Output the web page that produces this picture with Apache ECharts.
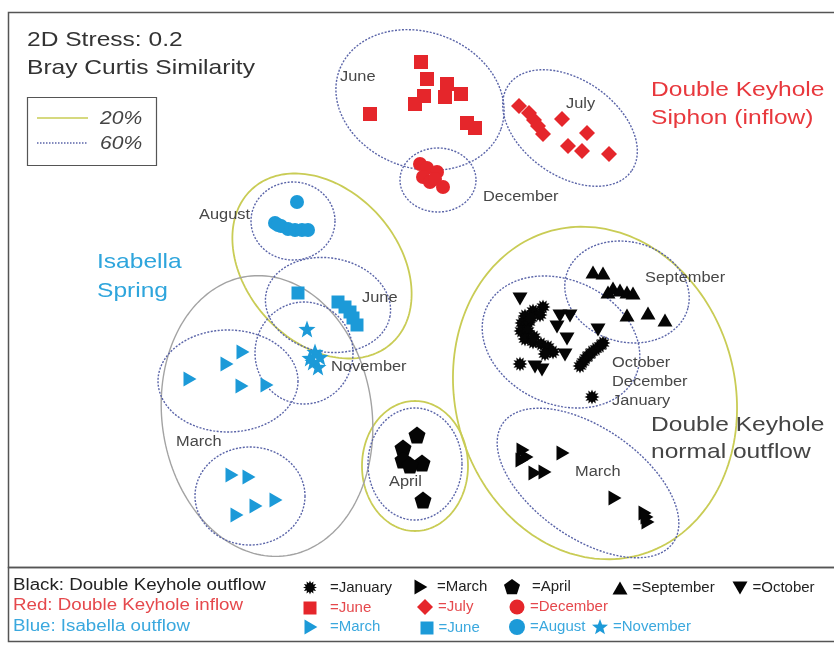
<!DOCTYPE html>
<html>
<head>
<meta charset="utf-8">
<script src="https://cdn.jsdelivr.net/npm/echarts/dist/echarts.min.js"></script>
<style>
html,body{margin:0;padding:0;background:#fff;}
#chart{width:834px;height:645px;}
</style>
</head>
<body>
<div id="chart"></div>
<script>
// ---------------- DATA (NMDS ordination positions) ----------------
const redJune = [[421,62],[427,79],[424,96],[415,104],[447,84],[445,97],[461,94],[370,114],[467,123],[475,128]];
const redJuly = [[519,106],[529,113],[534,120],[538,126],[543,134],[562,119],[587,133],[568,146],[582,151],[609,154]];
const redDecember = [[420,164],[427,168],[437,172],[423,177],[430,182],[443,187],[435,179]];
const blueAugust = [[297,202],[275,223],[281,226],[288,229],[295,230],[302,230],[308,230],[278,225]];
const blueJune = [[298,293],[338,302],[345,307],[350,312],[353,318],[357,325]];
const blueNovember = [[307,329],[315,352],[313,362],[318,367],[310,358],[320,357]];
const blueMarch = [[190,379],[227,364],[243,352],[242,386],[267,385],[232,475],[249,477],[237,515],[256,506],[276,500]];
const blackJanuary = [[543,307],[533,311],[525,316],[540,315],[522,323],[529,322],[521,331],[528,331],[525,339],[533,342],[541,344],[548,347],[553,352],[545,354],[534,337],[531,318],
  [580,366],[583,362],[586,358],[589,355],[592,352],[596,349],[600,346],[603,343],[520,364],[592,397]];
const blackMarch = [[523,450],[522,460],[527,457],[563,453],[535,473],[545,472],[615,498],[645,513],[648,522],[647,517]];
const blackApril = [[417,435],[403,448],[403,460],[422,463],[410,465],[423,500]];
const blackSeptember = [[593,272],[603,273],[613,288],[620,290],[627,292],[633,293],[608,292],[627,315],[648,313],[665,320]];
const blackOctober = [[520,299],[560,316],[570,316],[557,327],[567,339],[565,355],[598,330],[535,367],[542,370]];

// similarity contours: [centerX, centerY, radiusX, radiusY, rotationDeg]
const contours60 = [[420,100,86,68,20],[570,128,75,48,35],[438,180,38,32,0],[293,221,42,39,0],[328,305,63,47,10],
  [304,353,49,51,0],[228,381,70,51,0],[250,496,55,49,0],[415,464,47,56,0],[627,292,63,50,15],[561,342,82,62,25],[588,483,104,55,35]];
const contours20 = [[322,266,104,76,48],[415,466,53,65,0],[595,393,140,168,-15]];
const contoursGroup = [[267,416,105,141,-8]];

// cluster labels: [text, x, y]
const clusterLabels = [['June',340,77],['July',566,104],['December',483,197],['August',199,215],['June',362,298],
  ['November',331,367],['March',176,442],['April',389,482],['September',645,278],['October',612,363],
  ['December',612,382],['January',612,401],['March',575,472]];

// ---------------- SYMBOLS ----------------
function poly(n, rOut, rIn, start){
  let p = 'path://';
  const m = rIn ? n*2 : n;
  for (let i=0;i<m;i++){
    const r = rIn ? (i%2 ? rIn : rOut) : rOut;
    const a = start + i*2*Math.PI/m;
    p += (i?'L':'M') + (10 + r*Math.sin(a)).toFixed(2) + ',' + (10 - r*Math.cos(a)).toFixed(2);
  }
  return p + 'Z';
}
const SYM = {
  burst: poly(12, 10, 6.2, 0),
  star: poly(5, 10, 4.2, 0),
  pent: poly(5, 10, 0, 0),
  hex: poly(6, 10, 0, Math.PI/6),
  right: 'path://M0,0L12,7L0,14Z',
  up: 'path://M7,0L14,12L0,12Z',
  down: 'path://M0,0L14,0L7,12Z',
  square: 'rect', diamond: 'diamond', circle: 'circle'
};
const BLACK = '#050505', RED = '#e5262b', BLUE = '#1c9ad8';
const FONT = '"Liberation Sans", Arial, sans-serif';
const SX = 1.17;

const groups = [
  {name:'bJan', data: blackJanuary, symbol: SYM.burst, size: 15, color: BLACK, text:'=January', tc:'#222'},
  {name:'bMar', data: blackMarch, symbol: SYM.right, size: [13,15], color: BLACK, text:'=March', tc:'#222'},
  {name:'bApr', data: blackApril, symbol: SYM.pent, size: 17, color: BLACK, text:'=April', tc:'#222'},
  {name:'bSep', data: blackSeptember, symbol: SYM.up, size: [15,13], color: BLACK, text:'=September', tc:'#222'},
  {name:'bOct', data: blackOctober, symbol: SYM.down, size: [15,13], color: BLACK, text:'=October', tc:'#222'},
  {name:'rJun', data: redJune, symbol: SYM.square, size: 14, color: RED, text:'=June', tc:'#e5484c'},
  {name:'rJul', data: redJuly, symbol: SYM.diamond, size: 16, color: RED, text:'=July', tc:'#e5484c'},
  {name:'rDec', data: redDecember, symbol: SYM.circle, size: 14, color: RED, text:'=December', tc:'#e5484c'},
  {name:'uMar', data: blueMarch, symbol: SYM.right, size: [13,15], color: BLUE, text:'=March', tc:'#3aa8de'},
  {name:'uJun', data: blueJune, symbol: SYM.square, size: 13, color: BLUE, text:'=June', tc:'#3aa8de'},
  {name:'uAug', data: blueAugust, symbol: SYM.circle, size: 14, color: BLUE, text:'=August', tc:'#3aa8de'},
  {name:'uNov', data: blueNovember, symbol: SYM.star, size: 17, color: BLUE, text:'=November', tc:'#3aa8de'}
];
// legend slots: [series, iconCenterX, rowCenterY, textStartX, iconW, iconH]
const legendSlots = [
  ['bJan',310,587,330,14,14],['bMar',421,587,437,13,15],['bApr',512,587,532,16,16],['bSep',620,587,632,15,13],['bOct',740,587,751,15,13],
  ['rJun',310,607,330,13,13],['rJul',425,607,437,16,16],['rDec',517,607,530,15,15],
  ['uMar',311,627,330,13,15],['uJun',427,627,437,13,13],['uAug',517,627,530,16,16],['uNov',600,627,612,16,16]
];

// ---------------- CHART ----------------
const chart = echarts.init(document.getElementById('chart'), null, {renderer:'canvas'});

function ellipseRender(stroke, lw, dash){
  return function(params, api){
    const c = api.coord([api.value(0), api.value(1)]);
    const s = api.size([api.value(2), api.value(3)]);
    const rot = api.value(4) * Math.PI / 180;
    const pts = [];
    for (let i=0;i<180;i++){
      const t = i/180*2*Math.PI;
      const x = s[0]*Math.cos(t), y = s[1]*Math.sin(t);
      pts.push([c[0] + x*Math.cos(rot) - y*Math.sin(rot), c[1] + x*Math.sin(rot) + y*Math.cos(rot)]);
    }
    return {type:'polygon', shape:{points:pts}, style:{fill:'none', stroke: stroke, lineWidth: lw, lineDash: dash}};
  };
}

const series = [];
series.push({type:'custom', name:'c20', data: contours20, renderItem: ellipseRender('#c9cc55', 1.8, null), silent:true, z:1, clip:false});
series.push({type:'custom', name:'cG', data: contoursGroup, renderItem: ellipseRender('#a3a3a3', 1.4, null), silent:true, z:1, clip:false});
series.push({type:'custom', name:'c60', data: contours60, renderItem: ellipseRender('#5a64a8', 1.4, [2,1.5]), silent:true, z:2, clip:false});
groups.forEach(g => series.push({
  type:'scatter', name:g.name, data:g.data, symbol:g.symbol, symbolSize:g.size,
  itemStyle:{color:g.color, opacity:1}, silent:true, z:5, clip:false
}));
series.push({type:'custom', name:'labels', data: clusterLabels.map(l => [l[1], l[2]]), silent:true, z:6, clip:false,
  renderItem: function(params, api){
    const c = api.coord([api.value(0), api.value(1)]);
    return {type:'text', x:c[0], y:c[1], scaleX:SX,
      style:{text: clusterLabels[params.dataIndex][0], fill:'#474747', font:'14px ' + FONT,
        textAlign:'left', textVerticalAlign:'middle', align:'left', verticalAlign:'middle'}};
  }});

const legends = legendSlots.map(sl => {
  const g = groups.find(x => x.name === sl[0]);
  const pl = Math.max(0, sl[3] - (sl[1] + sl[4]/2 + 5));
  return {
    show:true, data:[sl[0]], left: sl[1] - sl[4]/2, top: sl[2] - sl[5]/2, padding:0, itemGap:0,
    itemWidth: sl[4], itemHeight: sl[5], selectedMode:false,
    formatter: () => g.text,
    textStyle:{color: g.tc, fontSize:15, fontFamily: FONT, padding:[0,0,0,pl]}
  };
});

function txt(x, y, text, size, color, extra){
  return Object.assign({type:'text', x:x, y:y, scaleX:SX, z:10,
    style:{text:text, fill:color, font: size + 'px ' + FONT, textVerticalAlign:'middle', verticalAlign:'middle'}}, extra||{});
}

const graphics = [
  {type:'rect', shape:{x:8.5, y:12.5, width:840, height:555}, style:{fill:'none', stroke:'#555', lineWidth:1.5}, z:0},
  {type:'rect', shape:{x:8.5, y:567.5, width:840, height:74}, style:{fill:'none', stroke:'#555', lineWidth:1.5}, z:0},
  {type:'rect', shape:{x:27.5, y:97.5, width:129, height:68}, style:{fill:'none', stroke:'#555', lineWidth:1.2}, z:0},
  {type:'line', shape:{x1:37, y1:118, x2:88, y2:118}, style:{stroke:'#c9cc55', lineWidth:1.6}},
  {type:'line', shape:{x1:37, y1:143, x2:88, y2:143}, style:{stroke:'#5a64a8', lineWidth:1.3, lineDash:[1.5,1.5]}},
  txt(100, 119, '20%', 18, '#444', {style:{text:'20%', fill:'#444', font:'italic 18px ' + FONT, textVerticalAlign:'middle', verticalAlign:'middle'}}),
  txt(100, 144, '60%', 18, '#444', {style:{text:'60%', fill:'#444', font:'italic 18px ' + FONT, textVerticalAlign:'middle', verticalAlign:'middle'}}),
  txt(27, 40, '2D Stress: 0.2', 21, '#333'),
  txt(27, 68, 'Bray Curtis Similarity', 21, '#333'),
  txt(651, 90, 'Double Keyhole', 21, '#e8383d'),
  txt(651, 118, 'Siphon (inflow)', 21, '#e8383d'),
  txt(97, 262, 'Isabella', 21, '#2ea5dc'),
  txt(97, 291, 'Spring', 21, '#2ea5dc'),
  txt(651, 425, 'Double Keyhole', 21, '#444'),
  txt(651, 452, 'normal outflow', 21, '#444'),
  txt(13, 586, 'Black: Double Keyhole outflow', 16, '#222'),
  txt(13, 606, 'Red: Double Keyhole inflow', 16, '#e5484c'),
  txt(13, 627, 'Blue: Isabella outflow', 16, '#3aa8de')
];

chart.setOption({
  animation:false,
  backgroundColor:'#fff',
  grid:{left:0, right:0, top:0, bottom:0},
  xAxis:{type:'value', min:0, max:834, show:false},
  yAxis:{type:'value', min:0, max:645, inverse:true, show:false},
  legend: legends,
  graphic: graphics,
  series: series
});
</script>
</body>
</html>
